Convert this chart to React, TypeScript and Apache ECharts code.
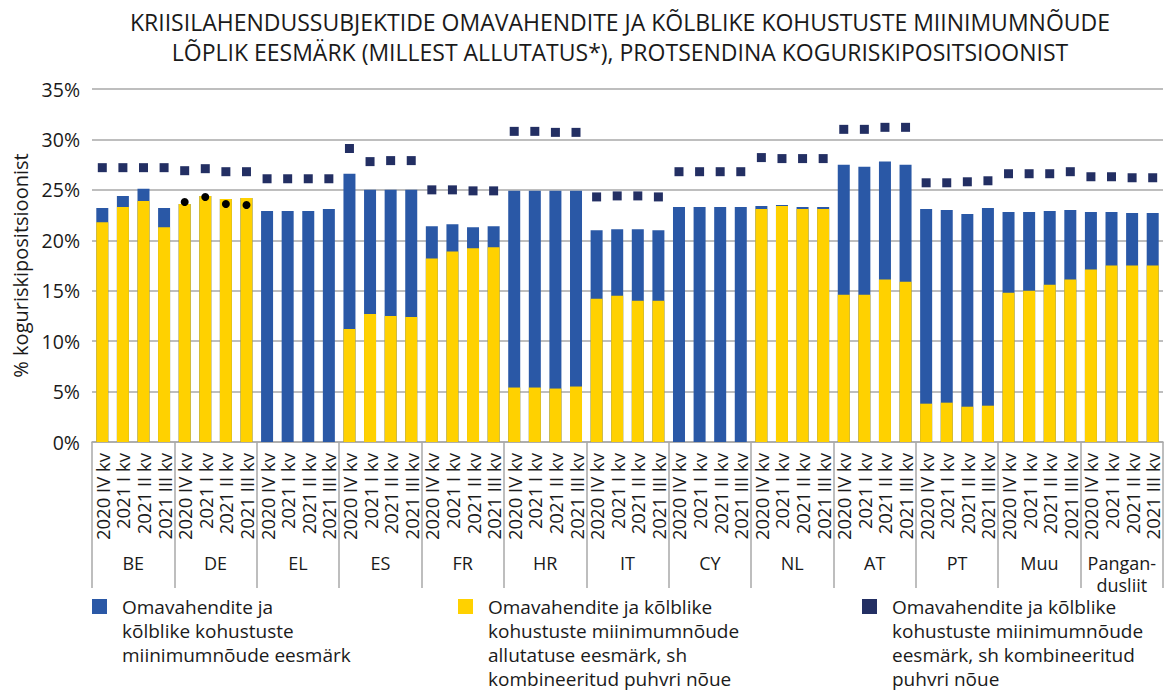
import React, { useEffect, useRef } from "react";
import * as echarts from "echarts";

const groups = ["BE", "DE", "EL", "ES", "FR", "HR", "IT", "CY", "NL", "AT", "PT", "Muu", "Pangan-\ndusliit"];
const quarters = ["2020 IV kv", "2021 I kv", "2021 II kv", "2021 III kv"];

// MREL target (blue bar top), % of TREA
const mrelTarget = [
  23.2, 24.4, 25.1, 23.2,
  23.6, 24.4, 24.1, 24.2,
  22.9, 22.9, 22.9, 23.1,
  26.6, 25.0, 25.0, 25.0,
  21.4, 21.6, 21.3, 21.4,
  24.9, 24.9, 24.9, 24.9,
  21.0, 21.1, 21.1, 21.0,
  23.3, 23.3, 23.3, 23.3,
  23.4, 23.5, 23.3, 23.3,
  27.5, 27.3, 27.8, 27.5,
  23.1, 23.0, 22.6, 23.2,
  22.8, 22.8, 22.9, 23.0,
  22.8, 22.8, 22.7, 22.7,
];

// subordination target incl. CBR (yellow)
const subordination = [
  21.8, 23.3, 23.9, 21.3,
  23.6, 24.4, 24.1, 24.2,
  0, 0, 0, 0,
  11.2, 12.7, 12.5, 12.4,
  18.2, 18.9, 19.2, 19.3,
  5.4, 5.4, 5.3, 5.5,
  14.2, 14.5, 14.0, 14.0,
  0, 0, 0, 0,
  23.1, 23.4, 23.1, 23.1,
  14.6, 14.6, 16.1, 15.9,
  3.8, 3.9, 3.5, 3.6,
  14.8, 15.0, 15.6, 16.1,
  17.1, 17.5, 17.5, 17.5,
];

// MREL target incl. CBR (navy squares)
const mrelWithCbr = [
  27.2, 27.2, 27.2, 27.2,
  26.9, 27.1, 26.8, 26.8,
  26.1, 26.1, 26.1, 26.1,
  29.1, 27.8, 27.9, 27.9,
  25.0, 25.0, 24.9, 24.9,
  30.8, 30.8, 30.7, 30.7,
  24.3, 24.4, 24.4, 24.3,
  26.8, 26.8, 26.8, 26.8,
  28.2, 28.1, 28.1, 28.1,
  31.0, 31.0, 31.2, 31.2,
  25.7, 25.7, 25.8, 25.9,
  26.6, 26.6, 26.6, 26.8,
  26.3, 26.3, 26.2, 26.2,
];

// black dots (DE only)
const dePoints = [
  null, null, null, null,
  23.8, 24.3, 23.6, 23.5,
  null, null, null, null,
  null, null, null, null,
  null, null, null, null,
  null, null, null, null,
  null, null, null, null,
  null, null, null, null,
  null, null, null, null,
  null, null, null, null,
  null, null, null, null,
  null, null, null, null,
  null, null, null, null,
];

const yTicks = [0, 5, 10, 15, 20, 25, 30, 35];

const TITLE1 = "KRIISILAHENDUSSUBJEKTIDE OMAVAHENDITE JA KÕLBLIKE KOHUSTUSTE MIINIMUMNÕUDE";
const TITLE2 = "LÕPLIK EESMÄRK (MILLEST ALLUTATUS*), PROTSENDINA KOGURISKIPOSITSIOONIST";

const L1 = "Omavahendite ja\nkõlblike kohustuste\nmiinimumnõude eesmärk";
const L2 = "Omavahendite ja kõlblike\nkohustuste miinimumnõude\nallutatuse eesmärk, sh\nkombineeritud puhvri nõue";
const L3 = "Omavahendite ja kõlblike\nkohustuste miinimumnõude\neesmärk, sh kombineeritud\npuhvri nõue";

const FONT = "'Open Sans', 'Noto Sans', sans-serif";
const TXT = "#1a1a1a";
const GRID = "#a9a9a9";

export default function App() {
  const ref = useRef<HTMLDivElement>(null);
  useEffect(() => {
    if (!ref.current) return;
    const chart = echarts.init(ref.current, null, { renderer: "svg" });
    const cats: string[] = [];
    groups.forEach(() => quarters.forEach((q) => cats.push(q)));
    const LH = 24;
    const legendItem = (name: string, left: number, lines: number) => {
      const H = lines * LH;
      return {
        data: [{ name, icon: `path://M0,0L0,0M25,0L25,0M0,${H}L0,${H}M0,4H15V19H0Z` }],
        left,
        top: 595,
        padding: 0,
        itemWidth: 25,
        itemHeight: H,
        selectedMode: false,
        textStyle: {
          fontFamily: FONT,
          fontSize: 19,
          color: TXT,
          lineHeight: LH,
        },
      };
    };
    const titleStyle = { fontFamily: FONT, fontSize: 23, fontWeight: "normal", color: TXT, lineHeight: 27.5 };
    chart.setOption({
      animation: false,
      textStyle: { fontFamily: FONT },
      title: {
        text: TITLE1,
        subtext: TITLE2,
        left: 620,
        top: 8,
        padding: 0,
        itemGap: 3,
        textAlign: "center",
        textStyle: titleStyle,
        subtextStyle: titleStyle,
      },
      legend: [legendItem(L1, 92, 3), legendItem(L2, 458, 4), legendItem(L3, 862, 4)],
      grid: { left: 92, right: 4, top: 89, bottom: 251, containLabel: false },
      xAxis: [
        {
          type: "category",
          data: cats,
          position: "bottom",
          axisLine: { show: true, lineStyle: { color: GRID, width: 1.5 } },
          axisTick: { show: false },
          axisLabel: { interval: 0, rotate: 90, fontSize: 18.5, color: TXT, margin: 11, fontFamily: FONT },
        },
        {
          type: "category",
          data: groups,
          position: "bottom",
          offset: 0,
          axisLine: { show: false },
          axisTick: { show: true, interval: 0, length: 146, lineStyle: { color: GRID, width: 1.5 } },
          axisLabel: { interval: 0, fontSize: 18, color: TXT, margin: 110, lineHeight: 22, fontFamily: FONT },
        },
      ],
      yAxis: {
        type: "value",
        min: yTicks[0],
        max: yTicks[yTicks.length - 1],
        interval: 5,
        name: "% koguriskipositsioonist",
        nameLocation: "middle",
        nameGap: 62,
        nameTextStyle: { fontSize: 20, color: TXT, fontFamily: FONT },
        axisLine: { show: false },
        axisTick: { show: false },
        axisLabel: { formatter: "{value}%", fontSize: 19.5, color: TXT, margin: 12, fontFamily: FONT },
        splitLine: { lineStyle: { color: GRID, width: 1.5 } },
      },
      series: [
        {
          name: L1,
          type: "bar",
          data: mrelTarget,
          barWidth: 12,
          barGap: "-100%",
          itemStyle: { color: "#2a58a6" },
          z: 2,
        },
        {
          name: L2,
          type: "bar",
          data: subordination,
          barWidth: 12,
          barGap: "-100%",
          itemStyle: { color: "#ffd100" },
          z: 3,
        },
        {
          name: L3,
          type: "scatter",
          data: mrelWithCbr,
          symbol: "rect",
          symbolSize: 9,
          itemStyle: { color: "#232f63", opacity: 1 },
          z: 4,
        },
        {
          name: "DE",
          type: "scatter",
          data: dePoints,
          symbol: "circle",
          symbolSize: 8,
          itemStyle: { color: "#000000", opacity: 1 },
          z: 5,
        },
      ],
    });
    return () => chart.dispose();
  }, []);
  return (
    <div
      ref={ref}
      style={{ position: "fixed", left: 0, top: 0, width: 1167, height: 693, background: "#fff" }}
    />
  );
}
